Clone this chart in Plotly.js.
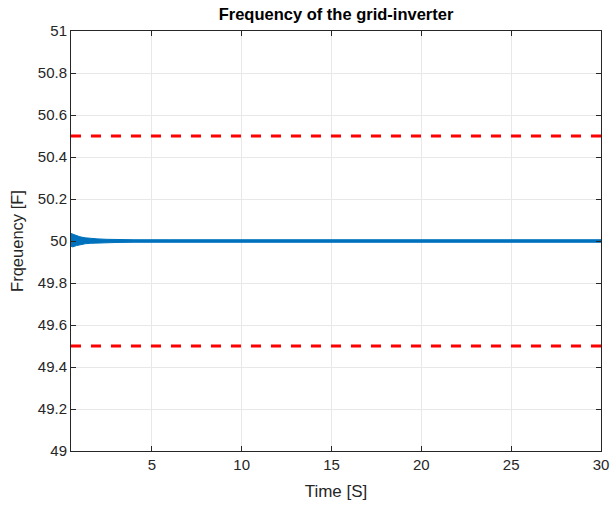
<!DOCTYPE html>
<html>
<head>
<meta charset="utf-8">
<script src="https://cdn.plot.ly/plotly-3.0.1.min.js"></script>
<style>html,body{margin:0;padding:0;background:#fff;}#chart{width:611px;height:506px;}</style>
</head>
<body>
<div id="chart"></div>
<script>
// Envelope of the inverter frequency oscillation
const envTime  = [0.5, 0.6, 0.8, 1.0, 1.3, 1.6, 2.0, 2.5, 3.0, 4.0, 6.0, 10.0, 20.0, 30.0];
const envUpper = [50.036, 50.033, 50.026, 50.020, 50.015, 50.012, 50.010, 50.008, 50.007, 50.006, 50.006, 50.006, 50.006, 50.006];
const envLower = [49.975, 49.972, 49.978, 49.983, 49.987, 49.989, 49.991, 49.992, 49.993, 49.994, 49.994, 49.994, 49.994, 49.994];
// Frequency limits
const limitTime  = [0.5, 30];
const upperLimit = [50.5, 50.5];
const lowerLimit = [49.5, 49.5];

const blue = '#0072BD';
const FONT = 'Liberation Sans, Arial, Helvetica, sans-serif';
const traces = [
  {x: envTime, y: envLower, mode: 'lines', line: {color: blue, width: 1}, hoverinfo: 'skip', showlegend: false},
  {x: envTime, y: envUpper, mode: 'lines', line: {color: blue, width: 1}, fill: 'tonexty', fillcolor: blue, showlegend: false},
  {x: limitTime, y: upperLimit, mode: 'lines', line: {color: '#ff0000', width: 3, dash: '10px,10px'}, showlegend: false},
  {x: limitTime, y: lowerLimit, mode: 'lines', line: {color: '#ff0000', width: 3, dash: '10px,10px'}, showlegend: false}
];

const axisCommon = {
  showline: true, mirror: 'ticks', linecolor: '#262626', linewidth: 1,
  ticks: 'inside', ticklen: 5, tickcolor: '#262626',
  showgrid: true, gridcolor: '#e8e8e8', gridwidth: 1,
  zeroline: false,
  tickfont: {family: FONT, size: 15, color: '#262626'}
};

const layout = {
  width: 611, height: 506,
  margin: {l: 71, r: 10, t: 31, b: 55},
  paper_bgcolor: '#fff', plot_bgcolor: '#fff',
  title: {text: '<b>Frequency of the grid-inverter</b>', xref: 'paper', x: 0.5, xanchor: 'center',
          yref: 'container', y: 0.972, yanchor: 'middle',
          font: {family: FONT, size: 16.5, color: '#000'}},
  xaxis: Object.assign({}, axisCommon, {
    range: [0.5, 30], tickvals: [5, 10, 15, 20, 25, 30],
    title: {text: 'Time [S]', standoff: 13, font: {family: FONT, size: 17, color: '#262626'}}
  }),
  yaxis: Object.assign({}, axisCommon, {
    range: [49, 51], tickvals: [49, 49.2, 49.4, 49.6, 49.8, 50, 50.2, 50.4, 50.6, 50.8, 51],
    ticktext: ['49', '49.2', '49.4', '49.6', '49.8', '50', '50.2', '50.4', '50.6', '50.8', '51'],
    title: {text: 'Frqeuency [F]', standoff: 10, font: {family: FONT, size: 16.5, color: '#262626'}}
  })
};

Plotly.newPlot('chart', traces, layout, {displayModeBar: false, staticPlot: true});
</script>
</body>
</html>
